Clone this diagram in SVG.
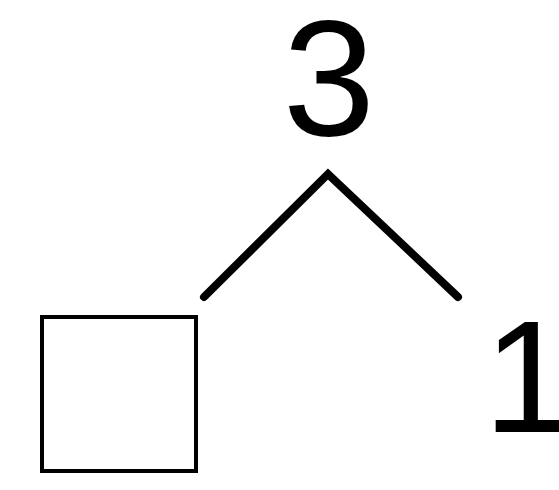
<svg xmlns="http://www.w3.org/2000/svg" width="559" height="490" viewBox="0 0 559 490">
<style>
.lbl{font-family:"Liberation Sans",Arial,sans-serif;fill:#000;text-anchor:middle}
.edge{fill:none;stroke:#000;stroke-width:8;stroke-linecap:round;stroke-linejoin:miter}
</style>
<rect width="559" height="490" fill="#fff"/>
<g id="connectors">
<polyline class="edge" points="204,297 328,174 458,297"/>
</g>
<g id="node-3"><text class="lbl" x="329" y="135" font-size="166">3</text></g>
<g id="node-box"><rect x="42" y="317" width="154" height="154" fill="none" stroke="#000" stroke-width="4"/></g>
<g id="node-1"><text class="lbl" x="528" y="432" font-size="160">1</text></g>
</svg>
